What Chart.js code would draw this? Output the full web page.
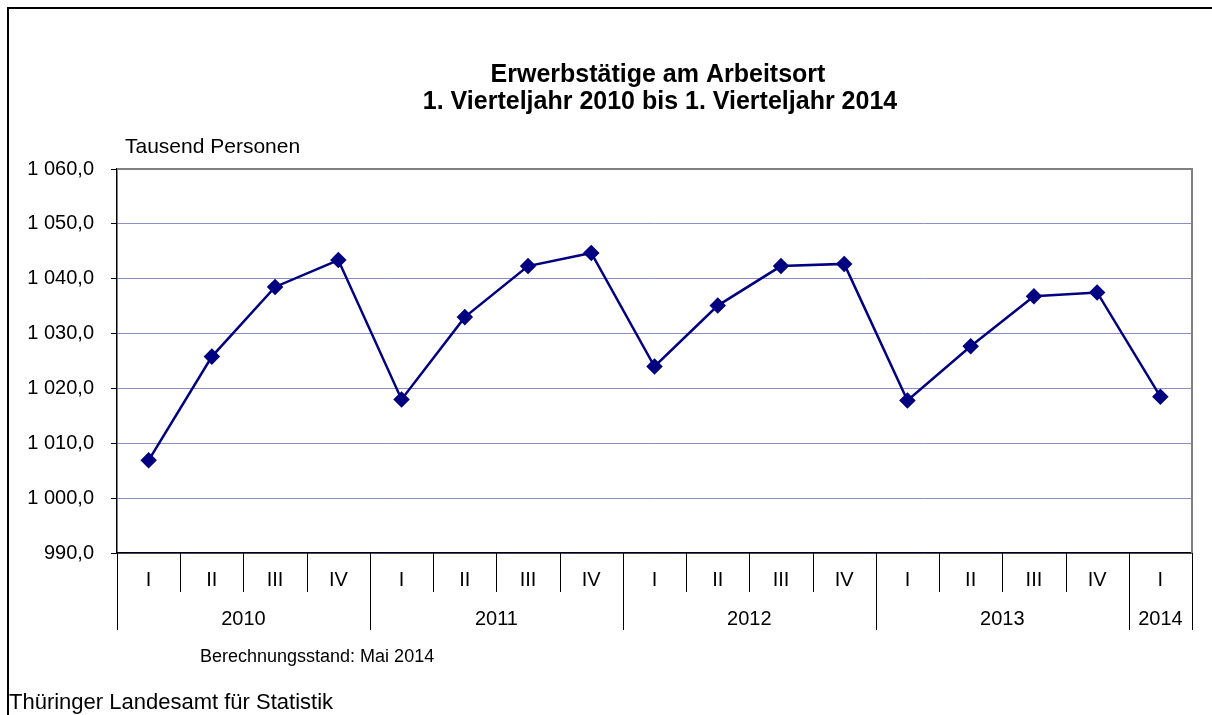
<!DOCTYPE html>
<html>
<head>
<meta charset="utf-8">
<script src="https://cdn.jsdelivr.net/npm/chart.js@4.4.1/dist/chart.umd.min.js"></script>
<style>
  html, body { margin: 0; padding: 0; background: #fff; }
</style>
</head>
<body>
<canvas id="chart" width="1212" height="715"></canvas>
<script>
/* ====== Data ====== */
const quarters = ["I", "II", "III", "IV", "I", "II", "III", "IV", "I", "II", "III", "IV", "I", "II", "III", "IV", "I"];
const years = ["2010", "2011", "2012", "2013", "2014"];
const yearSpans = [4, 4, 4, 4, 1];
const values = [1006.9, 1025.8, 1038.5, 1043.4, 1018.0, 1033.0, 1042.3, 1044.7, 1024.0, 1035.1, 1042.3, 1042.7, 1017.8, 1027.7, 1036.8, 1037.5, 1018.5];
const yMin = 990, yMax = 1060, yStep = 10;

const titleLines = ["Erwerbstätige am Arbeitsort", "1. Vierteljahr 2010 bis 1. Vierteljahr 2014"];
const unitLabel = "Tausend Personen";
const noteText = "Berechnungsstand: Mai 2014";
const sourceText = "Thüringer Landesamt für Statistik";

const FONT = "'Liberation Sans', Arial, sans-serif";

/* ====== Helpers ====== */
function fmt(v) {
  const parts = v.toFixed(1).split(".");
  return parts[0].replace(/\B(?=(\d{3})+(?!\d))/g, " ") + "," + parts[1];
}

/* ====== Decoration plugin ====== */
const decor = {
  id: "decor",
  beforeDraw(chart) {
    const ctx = chart.ctx;
    ctx.save();
    ctx.fillStyle = "#fff";
    ctx.fillRect(0, 0, chart.width, chart.height);
    ctx.restore();
  },
  afterDraw(chart) {
    const { ctx, chartArea: a, scales: { x } } = chart;
    ctx.save();

    // outer frame (left + top)
    ctx.strokeStyle = "#000";
    ctx.lineWidth = 2;
    ctx.beginPath();
    ctx.moveTo(8, chart.height);
    ctx.lineTo(8, 8);
    ctx.lineTo(chart.width, 8);
    ctx.stroke();

    // plot top / right border
    ctx.strokeStyle = "#808080";
    ctx.lineWidth = 2;
    ctx.beginPath();
    ctx.moveTo(a.left, a.top);
    ctx.lineTo(a.right, a.top);
    ctx.lineTo(a.right, a.bottom);
    ctx.stroke();

    // category separators and labels
    const half = (x.getPixelForValue(1) - x.getPixelForValue(0)) / 2;
    const edge = i => i < quarters.length ? x.getPixelForValue(i) - half : x.getPixelForValue(quarters.length - 1) + half;

    ctx.strokeStyle = "#000";
    ctx.lineWidth = 1;
    const yearStarts = [0];
    yearSpans.forEach((s, i) => yearStarts.push(yearStarts[i] + s));
    for (let i = 0; i <= quarters.length; i++) {
      const px = Math.round(edge(i)) + 0.5;
      const long = yearStarts.includes(i);
      ctx.beginPath();
      ctx.moveTo(px, a.bottom);
      ctx.lineTo(px, a.bottom + (long ? 77 : 39));
      ctx.stroke();
    }

    ctx.fillStyle = "#000";
    ctx.font = "20px " + FONT;
    ctx.textAlign = "center";
    ctx.textBaseline = "middle";
    quarters.forEach((q, i) => ctx.fillText(x.getLabelForValue(i), x.getPixelForValue(i), a.bottom + 27));
    years.forEach((y, i) => {
      const cx = (edge(yearStarts[i]) + edge(yearStarts[i + 1])) / 2;
      ctx.fillText(y, cx, a.bottom + 66);
    });

    // title
    ctx.font = "bold 25px " + FONT;
    ctx.fillText(titleLines[0], 658, 75);
    ctx.fillText(titleLines[1], 660, 102);

    // other texts
    ctx.textAlign = "left";
    ctx.font = "21px " + FONT;
    ctx.fillText(unitLabel, 125, 147);
    ctx.font = "18px " + FONT;
    ctx.fillText(noteText, 200, 657);
    ctx.font = "22px " + FONT;
    ctx.fillText(sourceText, 9, 703);

    ctx.restore();
  }
};

/* ====== Chart ====== */
new Chart(document.getElementById("chart"), {
  type: "line",
  data: {
    labels: quarters,
    datasets: [{
      data: values,
      borderColor: "#000080",
      backgroundColor: "#000080",
      borderWidth: 2.5,
      pointStyle: "rectRot",
      pointRadius: 6.5,
      pointHoverRadius: 6.5,
      tension: 0
    }]
  },
  options: {
    responsive: false,
    devicePixelRatio: 1,
    animation: false,
    events: [],
    layout: { padding: { left: 10, right: 20, top: 169, bottom: 152 } },
    plugins: { legend: { display: false }, tooltip: { enabled: false } },
    scales: {
      x: {
        offset: true,
        grid: { display: false },
        border: { color: "#000", width: 1.5 },
        ticks: { display: false },
        afterFit: s => { s.height = 10; }
      },
      y: {
        min: yMin,
        max: yMax,
        ticks: {
          stepSize: yStep,
          color: "#000",
          font: { family: FONT, size: 20 },
          padding: 17,
          callback: v => fmt(v)
        },
        grid: { color: "#8c8cc8", lineWidth: 1, tickColor: "#000", tickLength: 6 },
        border: { color: "#000", width: 1.5 },
        afterFit: s => { s.width = 107; }
      }
    }
  },
  plugins: [decor]
});
</script>
</body>
</html>
